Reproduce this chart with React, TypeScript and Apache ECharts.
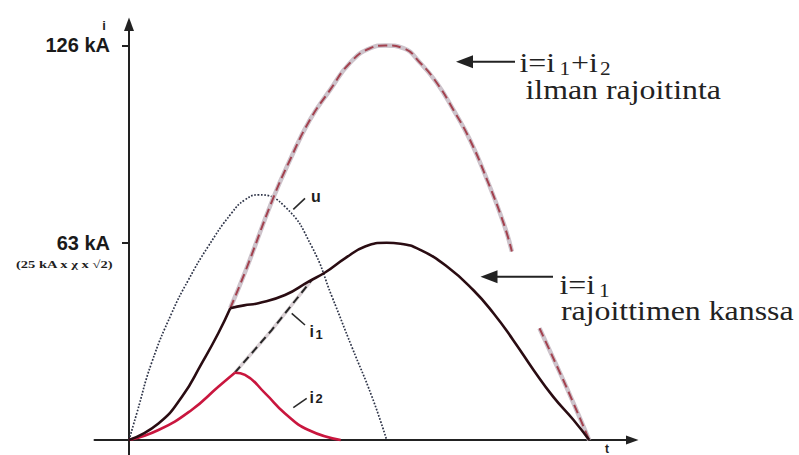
import { useEffect, useRef } from 'react';
import * as echarts from 'echarts';

type Pt = [number, number | '-'];

// Time runs 0 … 100 over one half-period of the limited current; currents in kA.
const tickValues = [63, 126];
const tickLabels: Record<number, string> = { 63: '63 kA', 126: '126 kA' };

// Source voltage u (dotted)
const voltageU: Pt[] = [
  [0, 0], [1.7, 8.6], [4.9, 24.6], [9.3, 40.6], [12.9, 51.1], [17.2, 61.8],
  [22.3, 72.5], [25.2, 76.7], [28.1, 78.3], [33.9, 74.5], [39.7, 61.8],
  [44.1, 45.8], [48.4, 29.8], [52.8, 13.8], [56, 0],
];

// Current i2 through the limiter branch; peaks where the limiter operates
const currentI2: Pt[] = [
  [0, 0], [6.4, 3.2], [13.6, 9.6], [19.4, 17.0], [23.0, 21.5], [25.2, 20.8],
  [29.6, 14.9], [33.9, 8.5], [39.0, 3.2], [46, 0],
];
const i2PeakIndex = 4;

// Current i = i1 with the limiter
const currentI1: Pt[] = [
  [0, 0], [6.4, 5.3], [11.5, 13.8], [15.8, 24.5], [19.4, 34.1], [22.0, 42.1],
  [25.0, 43.0], [28.1, 43.7], [33.9, 46.3], [39.0, 50.6], [42.6, 53.5],
  [47.0, 58.1], [51.3, 61.8], [56.0, 63], [59.0, 62.7], [63.3, 60.7],
  [69.1, 55.4], [74.8, 47.9], [79.2, 40.5], [83.5, 31.9], [87.9, 22.4],
  [92.2, 13.8], [96.6, 6.4], [100, 0],
];
const i1KneeIndex = 5;

// Prospective current i = i1 + i2 without the limiter (dashed, broken near the note)
const totalUnlimited: Pt[] = [
  [22.0, 42.1], [25.4, 54.3], [31.1, 76.4], [35.0, 89.5], [39.3, 102.2],
  [43.7, 111.8], [48.0, 120.4], [52.4, 125.1], [55.7, 126], [59.6, 125.1],
  [63.3, 120.4], [66.9, 114.0], [70.5, 105.4], [74.1, 95.8], [77.8, 83.1],
  [81.4, 69.2], [83.2, 60.2], [86, '-'], [89.2, 35.7], [93.7, 21.3],
  [96.6, 11.7], [100, 0],
];

// Continuation of the i2 rise up to the i1 curve (dashed)
const i1Unlimited: Pt[] = [
  [23.0, 21.5], [31.0, 35.1], [39.7, 51.1],
];

const SANS = 'Liberation Sans';
const SERIF = 'Liberation Serif';
const AXIS = '#222';

function line(data: Pt[], color: string, width: number, type: any = 'solid', smooth: number | boolean = 0.5, z = 2) {
  return {
    type: 'line',
    data,
    smooth,
    showSymbol: false,
    symbol: 'none',
    silent: true,
    z,
    lineStyle: { color, width, type, cap: 'butt', join: 'round' },
  };
}

function txt(text: string, x: number, y: number, fontSize: number, family: string, opts: any = {}) {
  return {
    type: 'text',
    x,
    y,
    scaleX: opts.scaleX ?? 1,
    silent: true,
    z: 10,
    style: {
      text,
      fontSize,
      fontFamily: family,
      fontWeight: opts.weight ?? 'normal',
      fill: opts.fill ?? '#1e1e1e',
      align: opts.align ?? 'left',
      verticalAlign: 'middle',
    },
  };
}

function seg(x1: number, y1: number, x2: number, y2: number, width = 1.6, color = '#2a2a2a') {
  return {
    type: 'line',
    silent: true,
    z: 10,
    shape: { x1, y1, x2, y2 },
    style: { stroke: color, lineWidth: width },
  };
}

function head(points: number[][]) {
  return { type: 'polygon', silent: true, z: 10, shape: { points }, style: { fill: AXIS } };
}

function arrowLeft(tipX: number, y: number, tailX: number) {
  return [
    seg(tipX + 14, y, tailX, y, 2, AXIS),
    head([[tipX, y], [tipX + 17, y - 6.5], [tipX + 17, y + 6.5]]),
  ];
}

export default function App() {
  const ref = useRef<HTMLDivElement>(null);

  useEffect(() => {
    if (!ref.current) return;
    const chart = echarts.init(ref.current, null, { renderer: 'svg' });

    const option: any = {
      animation: false,
      backgroundColor: '#ffffff',
      grid: {
        left: 94.5,
        top: 26,
        width: 537.5,
        height: 429.7,
        containLabel: false,
        outerBoundsMode: 'none',
      },
      xAxis: {
        type: 'value',
        min: -7.5,
        max: 109.3,
        splitLine: { show: false },
        axisTick: { show: false },
        axisLabel: { show: false },
        axisLine: {
          onZero: true,
          lineStyle: { color: AXIS, width: 2 },
        },
      },
      yAxis: {
        type: 'value',
        min: -5,
        max: 132.2,
        offset: -34.5,
        splitLine: { show: false },
        axisLine: {
          onZero: false,
          lineStyle: { color: AXIS, width: 2 },
        },
        axisTick: {
          show: true,
          length: 7,
          customValues: tickValues,
          lineStyle: { color: AXIS, width: 2 },
        },
        axisLabel: {
          show: true,
          customValues: tickValues,
          margin: 19,
          formatter: (v: number) => tickLabels[v] ?? '',
          fontFamily: SANS,
          fontWeight: 'bold',
          fontSize: 20,
          color: '#1a1a1a',
        },
      },
      series: [
        line(voltageU, '#2e3448', 1.7, [1.7, 1.6], 0.5, 1),
        line(totalUnlimited, '#cdc3cb', 4.5, 'solid', 0.5, 2),
        line(totalUnlimited, '#a3424f', 2, [9, 5], 0.5, 3),
        line(i1Unlimited, '#d9d0d4', 3.5, 'solid', false, 2),
        line(i1Unlimited, '#262626', 2, [8, 5], false, 3),
        line(currentI2.slice(0, i2PeakIndex + 1), '#c9163e', 2.6, 'solid', 0.5, 4),
        line(currentI2.slice(i2PeakIndex), '#c9163e', 2.6, 'solid', 0.5, 4),
        line(currentI1.slice(0, i1KneeIndex + 1), '#2a0c12', 2.6, 'solid', 0.5, 5),
        line(currentI1.slice(i1KneeIndex), '#2a0c12', 2.6, 'solid', 0.5, 5),
      ],
      graphic: [
        // axis arrowheads
        head([[129, 17.5], [124, 31], [134, 31]]),
        head([[638.5, 440], [626, 435.5], [626, 444.5]]),
        // axis names
        txt('i', 104, 25, 13, SANS, { weight: 'bold', align: 'center' }),
        txt('t', 607, 448.5, 12, SANS, { weight: 'bold', align: 'center' }),
        // peak current formula under the 63 kA label
        txt('(25 kA x χ x √2)', 112.5, 264.3, 11, SERIF, { weight: 'bold', align: 'right', scaleX: 1.32 }),
        // curve labels with leader lines
        seg(293.3, 209.3, 305, 198.3),
        txt('u', 311, 196, 16, SANS, { weight: 'bold' }),
        seg(291.7, 313.3, 305, 325),
        txt('i', 309.5, 331.5, 16, SANS, { weight: 'bold' }),
        txt('1', 315.5, 334.8, 13, SANS, { weight: 'bold' }),
        seg(293.3, 407.7, 306.7, 398.3),
        txt('i', 309.5, 397.8, 16, SANS, { weight: 'bold' }),
        txt('2', 315.5, 398.8, 13, SANS, { weight: 'bold' }),
        // notes on the right
        ...arrowLeft(456, 61.7, 515),
        txt('i=i', 519.5, 62.9, 27, SERIF, { scaleX: 1.18, fill: '#222' }),
        txt('1', 559.5, 68.4, 18, SERIF, { scaleX: 1.18, fill: '#222' }),
        txt('+i', 571, 62.9, 27, SERIF, { scaleX: 1.18, fill: '#222' }),
        txt('2', 600, 68.4, 18, SERIF, { scaleX: 1.18, fill: '#222' }),
        txt('ilman rajoitinta', 525.5, 89.4, 27, SERIF, { scaleX: 1.18, fill: '#222' }),
        ...arrowLeft(480.5, 276.7, 553),
        txt('i=i', 559.5, 284.9, 27, SERIF, { scaleX: 1.18, fill: '#222' }),
        txt('1', 599, 290.9, 18, SERIF, { scaleX: 1.18, fill: '#222' }),
        txt('rajoittimen kanssa', 561, 310.9, 27, SERIF, { scaleX: 1.18, fill: '#222' }),
      ],
    };

    chart.setOption(option);
    return () => chart.dispose();
  }, []);

  return (
    <div
      ref={ref}
      style={{ position: 'fixed', left: 0, top: 0, width: 799, height: 455, background: '#fff' }}
    />
  );
}
